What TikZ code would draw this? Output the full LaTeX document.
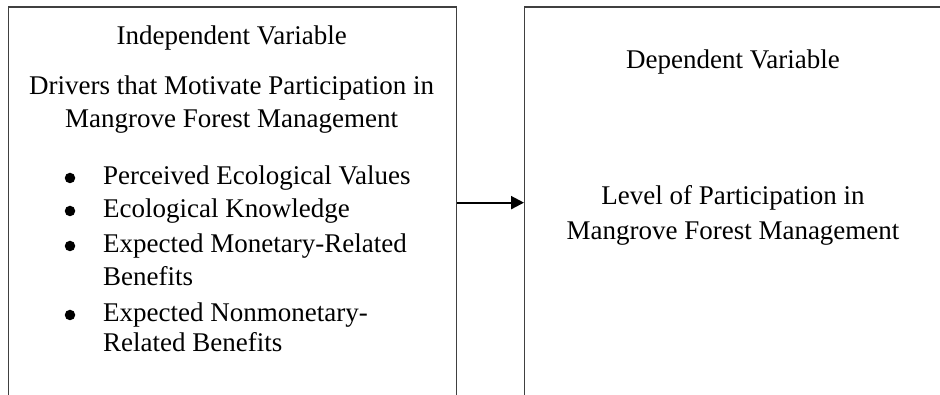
\documentclass[tikz,border=0pt]{standalone}
\usepackage{fontspec}
\setmainfont{Liberation Serif}
\usetikzlibrary{arrows.meta}
\begin{document}
\begin{tikzpicture}[x=1pt,y=1pt,
  panel/.style={draw=black!75,line width=1.3pt,anchor=north west,inner sep=0pt},
  txt/.style={anchor=base,inner sep=0pt,text=black,font=\fontsize{27}{33}\selectfont},
  ltxt/.style={anchor=base west,inner sep=0pt,text=black,font=\fontsize{27}{33}\selectfont},
  dot/.style={circle,fill=black,inner sep=0pt,minimum size=10.5pt},
  arr/.style={draw=black,line width=2.2pt,-{Triangle[length=13pt,width=13pt]}}]
\clip (0,0) rectangle (940,395);
\fill[white] (0,0) rectangle (940,395);
\node[panel,minimum width=448.5pt,minimum height=391pt] (L) at (7.5,388.5) {};
\node[panel,minimum width=440pt,minimum height=391pt] (R) at (524,388.5) {};
\draw[arr] (L.east) -- (R.west);
% left texts
\node[txt] (iv) at (231.7,350) {Independent Variable};
\node[txt] (d1) at (231.7,300) {Drivers that Motivate Participation in};
\node[txt] (d2) at (231.7,267) {Mangrove Forest Management};
\node[dot] (b1) at (70,217) {};
\node[ltxt] (t1) at (103,210) {Perceived Ecological Values};
\node[dot] (b2) at (70,184) {};
\node[ltxt] (t2) at (103,177) {Ecological Knowledge};
\node[dot] (b3) at (70,149) {};
\node[ltxt] (t3) at (103,142) {Expected Monetary-Related};
\node[ltxt] (t3b) at (103,109) {Benefits};
\node[dot] (b4) at (70,80) {};
\node[ltxt] (t4) at (103,73) {Expected Nonmonetary-};
\node[ltxt] (t4b) at (103,43) {Related Benefits};
% right texts
\node[txt] (dv) at (733,326) {Dependent Variable};
\node[txt] (r1) at (733,190) {Level of Participation in};
\node[txt] (r2) at (733,155) {Mangrove Forest Management};
\end{tikzpicture}
\end{document}
